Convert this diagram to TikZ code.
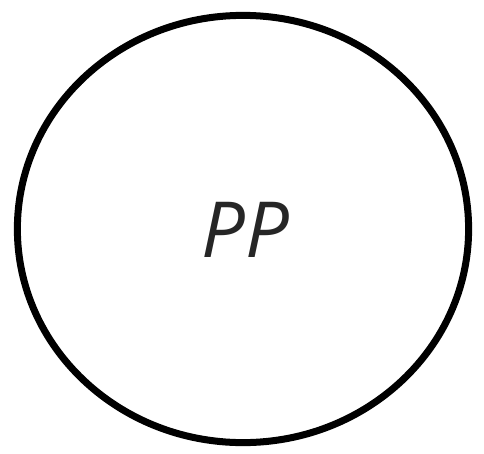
\documentclass[tikz,border=0pt]{standalone}
\usepackage{fontspec}
\setsansfont{Open Sans}
\usetikzlibrary{shapes.geometric}

\begin{document}
\begin{tikzpicture}[
    x=0.01cm, y=-0.01cm,
    blob/.style={ellipse, draw=black, line width=0.07cm, minimum width=4.51cm, minimum height=4.27cm, inner sep=0pt},
    lbl/.style={font=\fontsize{22}{26}\selectfont\sffamily\itshape, text=black!85}
]
    \useasboundingbox (0,0) rectangle (484,454);
    \node[blob] (pp) at (243,229) {};
    \node[lbl] (pptext) at (245,230) {PP};
\end{tikzpicture}
\end{document}
